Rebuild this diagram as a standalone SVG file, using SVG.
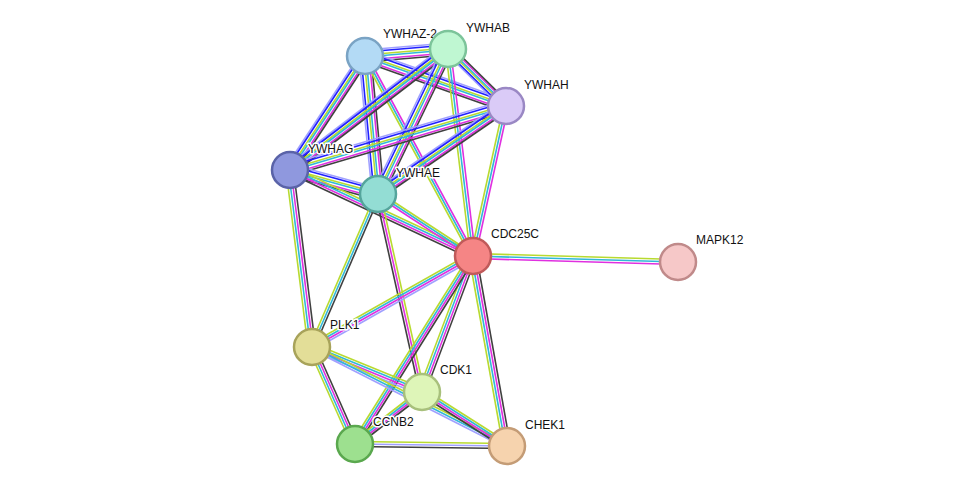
<svg xmlns="http://www.w3.org/2000/svg" width="975" height="492" viewBox="0 0 975 492">
<style>
line{stroke-width:1.6;fill:none}
.lb{stroke:#a0a0ff}.bl{stroke:#2020ff}.y{stroke:#b8da30}.c{stroke:#30b8d8}.m{stroke:#e030e0}.k{stroke:#404040}
.n{stroke-width:2.5}
text{font-family:"Liberation Sans",Arial,sans-serif;font-size:12px;fill:#111;stroke:#fff;stroke-width:3px;paint-order:stroke;stroke-linejoin:round}
</style>
<rect width="975" height="492" fill="#fff"/>
<g id="edges">
<!-- Z2-B (y) -->
<g><line class="lb" x1="365" y1="50" x2="448" y2="43"/><line class="bl" x1="365" y1="52" x2="448" y2="45"/><line class="y" x1="365" y1="55" x2="448" y2="48"/><line class="c" x1="365" y1="57" x2="448" y2="50"/><line class="m" x1="365" y1="60" x2="448" y2="53"/><line class="k" x1="365" y1="62" x2="448" y2="55"/></g>
<!-- Z2-H (y) -->
<g><line class="lb" x1="365" y1="50" x2="506" y2="100"/><line class="bl" x1="365" y1="52" x2="506" y2="102"/><line class="y" x1="365" y1="55" x2="506" y2="105"/><line class="c" x1="365" y1="57" x2="506" y2="107"/><line class="m" x1="365" y1="60" x2="506" y2="110"/><line class="k" x1="365" y1="62" x2="506" y2="112"/></g>
<!-- Z2-G (x) -->
<g><line class="lb" x1="359" y1="56" x2="284" y2="170"/><line class="bl" x1="361" y1="56" x2="286" y2="170"/><line class="y" x1="364" y1="56" x2="289" y2="170"/><line class="c" x1="366" y1="56" x2="291" y2="170"/><line class="m" x1="369" y1="56" x2="294" y2="170"/><line class="k" x1="371" y1="56" x2="296" y2="170"/></g>
<!-- Z2-E (x) -->
<g><line class="lb" x1="359" y1="56" x2="372" y2="194"/><line class="bl" x1="361" y1="56" x2="374" y2="194"/><line class="y" x1="364" y1="56" x2="377" y2="194"/><line class="c" x1="366" y1="56" x2="379" y2="194"/><line class="m" x1="369" y1="56" x2="382" y2="194"/><line class="k" x1="371" y1="56" x2="384" y2="194"/></g>
<!-- Z2-C -->
<g><line class="y" x1="362.5" y1="56" x2="470.5" y2="256"/><line class="c" x1="365" y1="56" x2="473" y2="256"/><line class="m" x1="367.5" y1="56" x2="475.5" y2="256"/></g>
<!-- B-H (x) -->
<g><line class="lb" x1="442" y1="49" x2="500" y2="106"/><line class="bl" x1="444" y1="49" x2="502" y2="106"/><line class="y" x1="447" y1="49" x2="505" y2="106"/><line class="c" x1="449" y1="49" x2="507" y2="106"/><line class="m" x1="452" y1="49" x2="510" y2="106"/><line class="k" x1="454" y1="49" x2="512" y2="106"/></g>
<!-- B-G (y) -->
<g><line class="lb" x1="448" y1="43" x2="290" y2="164"/><line class="bl" x1="448" y1="45" x2="290" y2="166"/><line class="y" x1="448" y1="48" x2="290" y2="169"/><line class="c" x1="448" y1="50" x2="290" y2="171"/><line class="m" x1="448" y1="53" x2="290" y2="174"/><line class="k" x1="448" y1="55" x2="290" y2="176"/></g>
<!-- B-E (x) -->
<g><line class="lb" x1="442" y1="49" x2="372" y2="194"/><line class="bl" x1="444" y1="49" x2="374" y2="194"/><line class="y" x1="447" y1="49" x2="377" y2="194"/><line class="c" x1="449" y1="49" x2="379" y2="194"/><line class="m" x1="452" y1="49" x2="382" y2="194"/><line class="k" x1="454" y1="49" x2="384" y2="194"/></g>
<!-- B-C -->
<g><line class="y" x1="445.5" y1="49" x2="470.5" y2="256"/><line class="c" x1="448" y1="49" x2="473" y2="256"/><line class="m" x1="450.5" y1="49" x2="475.5" y2="256"/></g>
<!-- H-G (y) -->
<g><line class="lb" x1="506" y1="100" x2="290" y2="164"/><line class="bl" x1="506" y1="102" x2="290" y2="166"/><line class="y" x1="506" y1="105" x2="290" y2="169"/><line class="c" x1="506" y1="107" x2="290" y2="171"/><line class="m" x1="506" y1="110" x2="290" y2="174"/><line class="k" x1="506" y1="112" x2="290" y2="176"/></g>
<!-- H-E (y) -->
<g><line class="lb" x1="506" y1="100" x2="378" y2="188"/><line class="bl" x1="506" y1="102" x2="378" y2="190"/><line class="y" x1="506" y1="105" x2="378" y2="193"/><line class="c" x1="506" y1="107" x2="378" y2="195"/><line class="m" x1="506" y1="110" x2="378" y2="198"/><line class="k" x1="506" y1="112" x2="378" y2="200"/></g>
<!-- H-C -->
<g><line class="y" x1="503.5" y1="106" x2="470.5" y2="256"/><line class="c" x1="506" y1="106" x2="473" y2="256"/><line class="m" x1="508.5" y1="106" x2="475.5" y2="256"/></g>
<!-- G-E (y) -->
<g><line class="lb" x1="290" y1="164" x2="378" y2="188"/><line class="bl" x1="290" y1="166" x2="378" y2="190"/><line class="y" x1="290" y1="169" x2="378" y2="193"/><line class="c" x1="290" y1="171" x2="378" y2="195"/><line class="m" x1="290" y1="174" x2="378" y2="198"/><line class="k" x1="290" y1="176" x2="378" y2="200"/></g>
<!-- G-C (y) -->
<g><line class="y" x1="290" y1="166" x2="473" y2="252"/><line class="c" x1="290" y1="168.5" x2="473" y2="254.5"/><line class="m" x1="290" y1="171" x2="473" y2="257"/><line class="k" x1="290" y1="173.5" x2="473" y2="259.5"/></g>
<!-- G-PLK1 (x) -->
<g><line class="y" x1="286" y1="170" x2="308" y2="347"/><line class="c" x1="288.5" y1="170" x2="310.5" y2="347"/><line class="m" x1="291" y1="170" x2="313" y2="347"/><line class="k" x1="293.5" y1="170" x2="315.5" y2="347"/></g>
<!-- E-C (y) -->
<g><line class="y" x1="378" y1="191.5" x2="473" y2="253.5"/><line class="c" x1="378" y1="194" x2="473" y2="256"/><line class="m" x1="378" y1="196.5" x2="473" y2="258.5"/></g>
<!-- E-PLK1 -->
<g><line class="y" x1="375.5" y1="194" x2="309.5" y2="347"/><line class="c" x1="378" y1="194" x2="312" y2="347"/><line class="k" x1="380.5" y1="194" x2="314.5" y2="347"/></g>
<!-- E-CDK1 -->
<g><line class="y" x1="380.5" y1="194" x2="424.5" y2="392"/><line class="m" x1="378" y1="194" x2="422" y2="392"/><line class="k" x1="375.5" y1="194" x2="419.5" y2="392"/></g>
<!-- C-MAPK12 -->
<g><line class="y" x1="473" y1="253.5" x2="678" y2="259.5"/><line class="c" x1="473" y1="256" x2="678" y2="262"/><line class="m" x1="473" y1="258.5" x2="678" y2="264.5"/></g>
<!-- C-PLK1 (y) -->
<g><line class="y" x1="473" y1="252" x2="312" y2="343"/><line class="c" x1="473" y1="254.5" x2="312" y2="345.5"/><line class="m" x1="473" y1="257" x2="312" y2="348"/><line class="lb" x1="473" y1="259.5" x2="312" y2="350.5"/></g>
<!-- C-CDK1 -->
<g><line class="y" x1="469" y1="256" x2="418" y2="392"/><line class="c" x1="471.5" y1="256" x2="420.5" y2="392"/><line class="m" x1="474" y1="256" x2="423" y2="392"/><line class="k" x1="476.5" y1="256" x2="425.5" y2="392"/></g>
<!-- C-CCNB2 -->
<g><line class="y" x1="469" y1="256" x2="351" y2="444"/><line class="c" x1="471.5" y1="256" x2="353.5" y2="444"/><line class="m" x1="474" y1="256" x2="356" y2="444"/><line class="k" x1="476.5" y1="256" x2="358.5" y2="444"/></g>
<!-- C-CHEK1 -->
<g><line class="y" x1="469" y1="256" x2="503" y2="446"/><line class="c" x1="471.5" y1="256" x2="505.5" y2="446"/><line class="m" x1="474" y1="256" x2="508" y2="446"/><line class="k" x1="476.5" y1="256" x2="510.5" y2="446"/></g>
<!-- PLK1-CDK1 (y) -->
<g><line class="y" x1="312" y1="343" x2="422" y2="388"/><line class="c" x1="312" y1="345.5" x2="422" y2="390.5"/><line class="m" x1="312" y1="348" x2="422" y2="393"/><line class="lb" x1="312" y1="350.5" x2="422" y2="395.5"/></g>
<!-- PLK1-CCNB2 -->
<g><line class="y" x1="308" y1="347" x2="351" y2="444"/><line class="c" x1="310.5" y1="347" x2="353.5" y2="444"/><line class="m" x1="313" y1="347" x2="356" y2="444"/><line class="k" x1="315.5" y1="347" x2="358.5" y2="444"/></g>
<!-- PLK1-CHEK1 -->
<g><line class="y" x1="312" y1="344.5" x2="507" y2="443.5"/><line class="c" x1="312" y1="347" x2="507" y2="446"/><line class="lb" x1="312" y1="349.5" x2="507" y2="448.5"/></g>
<!-- CDK1-CCNB2 -->
<g><line class="y" x1="422" y1="388" x2="355" y2="440"/><line class="c" x1="422" y1="390.5" x2="355" y2="442.5"/><line class="m" x1="422" y1="393" x2="355" y2="445"/><line class="k" x1="422" y1="395.5" x2="355" y2="447.5"/></g>
<!-- CDK1-CHEK1 -->
<g><line class="y" x1="422" y1="388" x2="507" y2="442"/><line class="c" x1="422" y1="390.5" x2="507" y2="444.5"/><line class="m" x1="422" y1="393" x2="507" y2="447"/><line class="k" x1="422" y1="395.5" x2="507" y2="449.5"/></g>
<!-- CCNB2-CHEK1 -->
<g><line class="y" x1="355" y1="441.5" x2="507" y2="443.5"/><line class="lb" x1="355" y1="444" x2="507" y2="446"/><line class="k" x1="355" y1="446.5" x2="507" y2="448.5"/></g>
</g>
<g id="YWHAZ-2"><circle class="n" cx="365" cy="56" r="18" fill="#b3daf5" stroke="#7aa3c4"/><text x="383" y="38">YWHAZ-2</text></g>
<g id="YWHAB"><circle class="n" cx="448" cy="49" r="18" fill="#bff7d2" stroke="#7cc49a"/><text x="466" y="32">YWHAB</text></g>
<g id="YWHAH"><circle class="n" cx="506" cy="106" r="18" fill="#dacbf7" stroke="#9a88c4"/><text x="524" y="89">YWHAH</text></g>
<g id="YWHAG"><circle class="n" cx="290" cy="170" r="18" fill="#8f98de" stroke="#5a63a8"/><text x="308" y="153">YWHAG</text></g>
<g id="YWHAE"><circle class="n" cx="378" cy="194" r="18" fill="#93ddd4" stroke="#55a59c"/><text x="396" y="177">YWHAE</text></g>
<g id="CDC25C"><circle class="n" cx="473" cy="256" r="18" fill="#f58585" stroke="#c05a5a"/><text x="491" y="238">CDC25C</text></g>
<g id="MAPK12"><circle class="n" cx="678" cy="262" r="18" fill="#f6c8c8" stroke="#c08a8a"/><text x="696" y="244">MAPK12</text></g>
<g id="PLK1"><circle class="n" cx="312" cy="347" r="18" fill="#e3de98" stroke="#a8a35a"/><text x="330" y="329">PLK1</text></g>
<g id="CDK1"><circle class="n" cx="422" cy="392" r="18" fill="#def5b8" stroke="#a8c07c"/><text x="440" y="374">CDK1</text></g>
<g id="CCNB2"><circle class="n" cx="355" cy="444" r="18" fill="#9de08f" stroke="#5aa84e"/><text x="373" y="426">CCNB2</text></g>
<g id="CHEK1"><circle class="n" cx="507" cy="446" r="18" fill="#f6d3ae" stroke="#c49c76"/><text x="525" y="429">CHEK1</text></g>
</svg>
